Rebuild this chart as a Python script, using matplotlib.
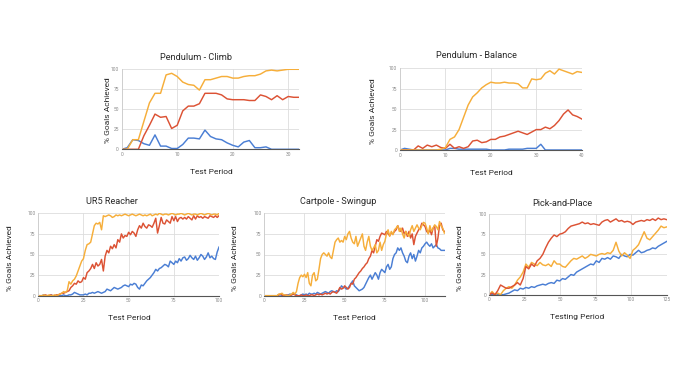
import numpy as np
import matplotlib
matplotlib.use("Agg")
import matplotlib.pyplot as plt

plt.rcParams['font.family'] = ['Roboto', 'DejaVu Sans']

ORANGE = '#F6AE3A'
RED = '#DC5234'
BLUE = '#4A7ED4'

# ---------------- data ----------------
climb_orange = [0, 0, 12, 12, 35, 58, 70, 70, 93, 95,
                91, 84, 81, 80, 74, 87, 87, 89, 91, 91,
                89, 89, 91, 92, 92, 94, 98, 99, 98, 99,
                100, 100, 100]
climb_red = [0, 0, 0, 0, 17, 30, 44, 40, 41, 26,
             30, 48, 54, 54, 57, 70, 70, 70, 68, 63,
             62, 62, 62, 61, 61, 68, 66, 62, 67, 62,
             66, 65, 65]
climb_blue = [0, 2, 12, 11, 7, 5, 18, 4, 4, 1,
              1, 6, 14, 14, 13, 24, 16, 13, 12, 8,
              5, 3, 9, 11, 2, 2, 3, 0, 0, 0,
              0, 0, 0]

bal_orange = [0, 0, 0, 0, 0, 0, 0, 0, 0, 1,
              3, 13, 16, 25, 40, 55, 65, 70, 76, 80,
              83, 82, 82, 83, 82, 82, 81, 76, 76, 87,
              86, 87, 94, 97, 93, 99, 97, 95, 93, 96,
              95]
bal_red = [0, 0, 0, 0, 5, 2, 6, 4, 6, 3,
           2, 7, 2, 4, 2, 4, 11, 12, 9, 10,
           13, 13, 16, 17, 19, 21, 23, 21, 19, 22,
           25, 25, 28, 26, 30, 36, 44, 49, 43, 41,
           38]
bal_blue = [0, 2, 1, 0, 0, 0, 0, 0, 0, 0,
            0, 2, 2, 1, 1, 1, 1, 1, 1, 1,
            0, 0, 0, 0, 1, 1, 1, 1, 2, 2,
            2, 7, 0, 0, 0, 0, 0, 0, 0, 0,
            0]

ur5_orange = [0, 0, 0, 1, 0, 0, 1, 0, 0, 1, 0, 1, 2,
              3, 5, 4, 6, 17, 14, 18, 20,
              24, 30, 36, 42, 45, 55, 62, 63, 65, 75,
              85, 88, 87, 89, 80, 97, 96, 97, 98, 97,
              95, 96, 98, 97, 98, 97, 98, 99, 98, 97,
              98, 99, 98, 97, 98, 99, 98, 97, 98, 97,
              98, 99, 97, 98, 99, 98, 100, 99, 98, 99,
              99, 98, 99, 100, 99, 98, 99, 99, 100, 99,
              98, 99, 100, 99, 98, 99, 99, 98, 99, 100,
              99, 98, 99, 100, 99, 98, 99, 99, 98, 100]
ur5_red = [0, 0, 0, 0, 1, 0, 0, 1, 0, 0, 1, 1, 2,
           3, 3, 4, 5, 6, 10, 12, 15,
           14, 18, 16, 17, 22, 20, 28, 30, 33, 38,
           33, 40, 36, 38, 44, 30, 48, 55, 52, 60,
           57, 62, 58, 68, 65, 75, 70, 73, 72, 77,
           74, 78, 76, 72, 80, 85, 82, 88, 84, 82,
           86, 85, 83, 88, 94, 76, 85, 95, 88, 87,
           92, 90, 88, 96, 91, 96, 90, 94, 95, 93,
           95, 93, 96, 94, 92, 97, 93, 97, 95, 96,
           94, 96, 95, 94, 97, 96, 95, 97, 95, 97]
ur5_blue = [0, 0, 0, 1, 0, 0, 0, 1, 0, 0, 0, 1, 0,
            0, 1, 0, 0, 1, 1, 2, 4,
            3, 2, 1, 1, 1, 2, 1, 3, 3, 4,
            3, 4, 5, 4, 3, 4, 5, 8, 7, 6,
            8, 10, 9, 8, 9, 10, 12, 13, 12, 11,
            14, 13, 15, 14, 10, 8, 13, 12, 15, 18,
            20, 22, 25, 28, 32, 30, 33, 34, 36, 38,
            37, 35, 42, 40, 38, 42, 40, 45, 42, 46,
            47, 43, 45, 49, 46, 44, 48, 43, 46, 50,
            48, 44, 47, 52, 46, 48, 45, 44, 53, 59]

cart_orange = [0, 0, 0, 0, 0, 0, 0, 0, 0, 2,
               2, 3, 1, 1, 0, 0, 1, 2, 4, 2,
               5, 15, 22, 25, 23, 26, 22, 28, 15, 12,
               25, 28, 18, 20, 32, 45, 50, 52, 50, 48,
               52, 47, 45, 55, 65, 68, 70, 65, 67, 65,
               72, 68, 75, 78, 70, 65, 63, 72, 60, 65,
               70, 75, 60, 55, 65, 72, 60, 55, 58, 62,
               52, 55, 65, 55, 62, 66, 75, 80, 72, 78,
               74, 80, 82, 85, 78, 82, 75, 70, 78, 75,
               72, 80, 85, 78, 82, 86, 82, 80, 85, 89,
               88, 82, 75, 85, 78, 82, 86, 84, 80, 90,
               85, 82, 76]
cart_red = [0, 0, 0, 0, 0, 0, 0, 0, 0, 1,
            2, 1, 0, 0, 1, 0, 0, 1, 2, 1,
            0, 0, 0, 1, 0, 0, 1, 0, 0, 1,
            1, 0, 1, 2, 1, 2, 1, 2, 3, 2,
            3, 2, 4, 5, 4, 3, 6, 10, 8, 9,
            12, 10, 8, 10, 15, 14, 20, 22, 25, 28,
            30, 33, 35, 38, 40, 45, 48, 55, 52, 60,
            68, 66, 72, 76, 75, 74, 78, 75, 73, 76,
            75, 78, 80, 85, 80, 78, 82, 75, 78, 72,
            78, 70, 75, 62, 72, 76, 80, 82, 88, 86,
            84, 78, 76, 80, 74, 82, 85, 60, 70, 85,
            88, 80, 78]
cart_blue = [0, 0, 0, 0, 0, 0, 0, 0, 0, 1,
             1, 0, 0, 1, 0, 1, 2, 1, 3, 2,
             1, 0, 0, 1, 2, 1, 2, 1, 3, 2,
             2, 3, 2, 4, 3, 2, 3, 4, 5, 4,
             3, 5, 6, 5, 4, 6, 5, 8, 12, 10,
             10, 8, 9, 12, 15, 18, 12, 10, 8, 6,
             7, 8, 10, 14, 18, 22, 25, 20, 24, 28,
             25, 20, 28, 32, 30, 28, 35, 38, 32, 35,
             45, 50, 52, 58, 55, 58, 52, 48, 42, 40,
             48, 52, 45, 50, 42, 48, 55, 52, 58, 60,
             63, 65, 62, 60, 63, 58, 60, 62, 58, 57,
             55, 55, 55]

pnp_red = [0, 2, 0, 5, 12, 10, 8, 8, 10, 12,
           15, 12, 20, 35, 32, 38, 35, 42, 45, 50,
           58, 65, 70, 74, 72, 75, 76, 78, 82, 85,
           86, 87, 88, 90, 88, 89, 87, 88, 87, 86,
           90, 92, 93, 90, 92, 94, 91, 92, 90, 91,
           90, 87, 90, 91, 92, 91, 93, 92, 94, 92,
           95, 93, 94, 93]
pnp_orange = [0, 4, 0, 2, 0, 5, 8, 10, 8, 12,
              18, 22, 28, 38, 34, 40, 38, 36, 40, 37,
              36, 38, 35, 42, 38, 38, 35, 34, 38, 42,
              45, 44, 46, 48, 45, 47, 50, 49, 48, 50,
              51, 50, 52, 51, 55, 65, 54, 48, 52, 49,
              45, 55, 58, 62, 70, 78, 70, 68, 72, 76,
              80, 85, 83, 84]
pnp_blue = [0, 0, 0, 0, 0, 0, 1, 2, 4, 6,
            5, 8, 7, 9, 8, 10, 9, 11, 12, 13,
            12, 14, 15, 14, 18, 17, 20, 19, 22, 25,
            24, 28, 30, 32, 34, 36, 38, 37, 42, 40,
            45, 44, 46, 44, 48, 47, 45, 50, 48, 47,
            50, 49, 52, 55, 52, 53, 55, 56, 58, 57,
            60, 62, 64, 66]

y_ticks = [0, 25, 50, 75, 100]
climb_xticks = [0, 10, 20, 30]
bal_xticks = [0, 10, 20, 30, 40]
ur5_xticks = [0, 25, 50, 75, 100]
cart_xticks = [0, 25, 50, 75, 100]
pnp_xticks = [0, 25, 50, 75, 100, 125]

W, H = 675, 380
fig = plt.figure(figsize=(W / 100, H / 100), dpi=100)

TXT = '#2a2a2a'


def px_axes(x0, x1, ytop, ybot):
    return fig.add_axes([x0 / W, 1 - ybot / H, (x1 - x0) / W, (ybot - ytop) / H])


def panel(rect, xmax, xlim, xticks, series, title, tpos, xlabel, xlpos, ylpos):
    ax = px_axes(*rect)
    for ys, c in series:
        xs = np.linspace(0, xmax, len(ys))
        ax.plot(xs, ys, color=c, lw=1.05, solid_joinstyle='round')
    ax.set_xlim(0, xlim)
    ax.set_ylim(0, 100)
    ax.set_xticks(xticks)
    ax.set_yticks(y_ticks)
    ax.tick_params(length=0, labelsize=3.5, labelcolor='#888888', pad=2)
    ax.grid(True, color='#DDDDDD', lw=0.6)
    ax.set_axisbelow(True)
    for s in ['top', 'right']:
        ax.spines[s].set_visible(False)
    ax.spines['left'].set_color('#CCCCCC')
    ax.spines['left'].set_linewidth(0.6)
    ax.spines['bottom'].set_color('#555555')
    ax.spines['bottom'].set_linewidth(0.8)
    fig.text(tpos[0] / W, 1 - tpos[1] / H, title, ha='center', va='center',
             fontsize=6.6, color=TXT)
    fig.text(xlpos[0] / W, 1 - xlpos[1] / H, xlabel, ha='center', va='center',
             fontsize=6.0, color=TXT)
    fig.text(ylpos[0] / W, 1 - ylpos[1] / H, '% Goals Achieved', ha='center',
             va='center', rotation=90, fontsize=6.0, color=TXT)
    return ax


panel((121.7, 299.3, 69.3, 149.3), 32, 32, climb_xticks,
      [(climb_blue, BLUE), (climb_red, RED), (climb_orange, ORANGE)],
      'Pendulum - Climb', (196, 57), 'Test Period', (211, 172), (108, 110))
panel((400, 581.7, 68.3, 150), 40, 40, bal_xticks,
      [(bal_blue, BLUE), (bal_red, RED), (bal_orange, ORANGE)],
      'Pendulum - Balance', (476, 56), 'Test Period', (491, 173), (373, 111))
panel((38.3, 219, 213.3, 295.7), 100, 100, ur5_xticks,
      [(ur5_blue, BLUE), (ur5_red, RED), (ur5_orange, ORANGE)],
      'UR5 Reacher', (112, 202), 'Test Period', (129, 318), (10, 258))
panel((264.3, 445, 213.3, 295.7), 112, 112.4, cart_xticks,
      [(cart_blue, BLUE), (cart_red, RED), (cart_orange, ORANGE)],
      'Cartpole - Swingup', (338, 202), 'Test Period', (354.5, 318), (235, 258))
panel((489.3, 666.7, 214, 294.7), 125, 125, pnp_xticks,
      [(pnp_blue, BLUE), (pnp_orange, ORANGE), (pnp_red, RED)],
      'Pick-and-Place', (562, 203), 'Testing Period', (577, 317), (460, 258))

fig.savefig('out.png', dpi=100, facecolor='white')
